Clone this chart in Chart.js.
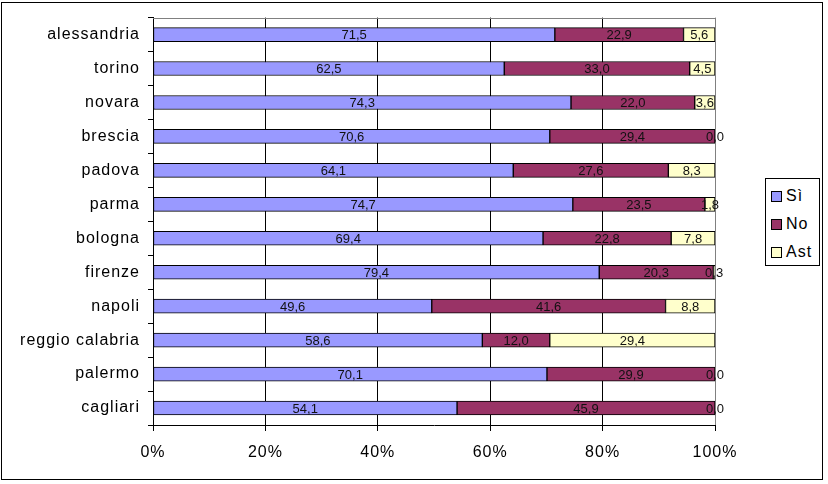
<!DOCTYPE html>
<html>
<head>
<meta charset="utf-8">
<script src="https://cdn.jsdelivr.net/npm/chart.js@4"></script>
<style>
  html, body { margin: 0; padding: 0; background: #fff; }
  #wrap { position: relative; width: 828px; height: 484px; overflow: hidden; }
  #frame { position: absolute; left: 1px; top: 2px; width: 820px; height: 476px; border: 1px solid #000; pointer-events: none; }
  #legend { position: absolute; left: 765px; top: 178px; width: 53px; height: 86px; border: 1px solid #000; background: #fff;
            font-family: "Liberation Sans", Arial, sans-serif; font-size: 16px; color: #000; letter-spacing: 1px; }
  .item { position: absolute; left: 5px; height: 20px; line-height: 20px; }
  .sw { position: absolute; left: 0; top: 5px; width: 9px; height: 9px; border: 1px solid #000; }
  .lb { position: absolute; left: 15px; top: 0; white-space: nowrap; }
</style>
</head>
<body>
<div id="wrap">
  <canvas id="c" width="828" height="484"></canvas>
  <div id="frame"></div>
  <div id="legend"></div>
</div>
<script>
const categories = ["alessandria", "torino", "novara", "brescia", "padova", "parma", "bologna", "firenze", "napoli", "reggio calabria", "palermo", "cagliari"];
const si  = [71.5, 62.5, 74.3, 70.6, 64.1, 74.7, 69.4, 79.4, 49.6, 58.6, 70.1, 54.1];
const no  = [22.9, 33.0, 22.0, 29.4, 27.6, 23.5, 22.8, 20.3, 41.6, 12.0, 29.9, 45.9];
const ast = [5.6, 4.5, 3.6, 0.0, 8.3, 1.8, 7.8, 0.3, 8.8, 29.4, 0.0, 0.0];
const seriesNames = ["Sì", "No", "Ast"];
const seriesColors = ["#9999FF", "#993366", "#FFFFCC"];
const xTicks = [0, 20, 40, 60, 80, 100];

const raw = [si, no, ast];
const totals = categories.map((_, i) => si[i] + no[i] + ast[i]);
const shares = raw.map(arr => arr.map((v, i) => v / totals[i] * 100));

const FONT = '"Liberation Sans", Arial, sans-serif';

const spacingPlugin = {
  id: 'spacing',
  beforeDraw(chart) { chart.ctx.letterSpacing = '1px'; }
};

const labelPlugin = {
  id: 'segLabels',
  afterDatasetsDraw(chart) {
    const ctx = chart.ctx;
    ctx.save();
    ctx.letterSpacing = '0px';
    ctx.font = '13px ' + FONT;
    ctx.fillStyle = '#111';
    ctx.textAlign = 'center';
    ctx.textBaseline = 'middle';
    chart.data.datasets.forEach((ds, di) => {
      const meta = chart.getDatasetMeta(di);
      meta.data.forEach((el, i) => {
        const v = raw[di][i];
        const cx = (el.x + el.base) / 2;
        ctx.fillText(v.toFixed(1).replace('.', ','), cx, el.y + 1);
      });
    });
    ctx.restore();
  }
};

const framePlugin = {
  id: 'plotFrame',
  afterDraw(chart) {
    const a = chart.chartArea;
    const ctx = chart.ctx;
    ctx.save();
    ctx.strokeStyle = '#808080';
    ctx.lineWidth = 1;
    ctx.beginPath();
    ctx.moveTo(a.left, Math.round(a.top) + 0.5);
    ctx.lineTo(a.right, Math.round(a.top) + 0.5);
    ctx.stroke();
    ctx.restore();
  }
};

new Chart(document.getElementById('c'), {
  type: 'bar',
  data: {
    labels: categories,
    datasets: shares.map((d, k) => ({
      label: seriesNames[k],
      data: d,
      backgroundColor: seriesColors[k],
      borderColor: '#000',
      borderWidth: 1,
      borderSkipped: false,
      barThickness: 14
    }))
  },
  options: {
    indexAxis: 'y',
    responsive: false,
    animation: false,
    layout: { padding: { left: 0, top: 17, right: 113, bottom: 19 } },
    plugins: { legend: { display: false }, tooltip: { enabled: false } },
    scales: {
      x: {
        stacked: true,
        min: 0, max: 100,
        afterBuildTicks(scale) { scale.ticks = xTicks.map(v => ({ value: v })); },
        afterFit(scale) { scale.height = 40; },
        ticks: {
          callback: v => v + '%',
          font: { family: FONT, size: 16 },
          color: '#000',
          padding: 12,
          maxRotation: 0
        },
        grid: {
          color: c => (c.tick && c.tick.value === 100) ? '#808080' : '#000',
          tickColor: '#000',
          tickLength: 6,
          lineWidth: 1
        },
        border: { display: true, color: '#000' }
      },
      y: {
        stacked: true,
        afterFit(scale) { scale.width = 153; },
        ticks: {
          font: { family: FONT, size: 16 },
          color: '#000',
          padding: 8
        },
        grid: {
          offset: true,
          drawOnChartArea: false,
          drawTicks: true,
          tickLength: 5,
          color: '#000'
        },
        border: { display: true, color: '#000' }
      }
    }
  },
  plugins: [spacingPlugin, labelPlugin, framePlugin]
});

const legend = document.getElementById('legend');
seriesNames.forEach((n, k) => {
  const it = document.createElement('div');
  it.className = 'item';
  it.style.top = (7 + k * 28) + 'px';
  const sw = document.createElement('span');
  sw.className = 'sw';
  sw.style.background = seriesColors[k];
  const lb = document.createElement('span');
  lb.className = 'lb';
  lb.textContent = n;
  it.appendChild(sw); it.appendChild(lb);
  legend.appendChild(it);
});
</script>
</body>
</html>
